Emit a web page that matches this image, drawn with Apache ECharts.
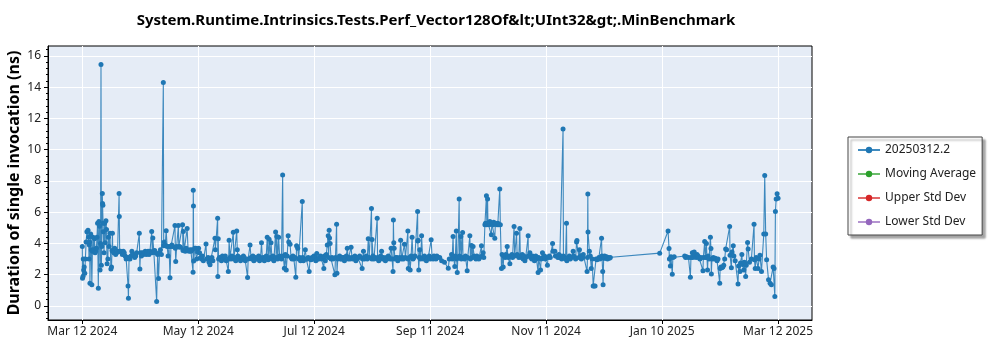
<!DOCTYPE html>
<html>
<head>
<meta charset="utf-8">
<script src="https://cdn.jsdelivr.net/npm/echarts@6/dist/echarts.min.js"></script>
<style>
  html, body { margin: 0; padding: 0; background: #ffffff; }
  #chart { width: 1000px; height: 350px; }
</style>
</head>
<body>
<div id="chart"></div>
<script>
// Benchmark runs, one array per month: [day of month (fraction = time of day), duration in ns]
const runs2024Mar = [[12,3.8],[12.1,1.78],[12.4,1.9],[12.5,3.0],[12.7,2.3],[13,2.5],[13.3,2.1],[13.6,3.0],[14,4.1],[14.4,4.75],[15,4.85],[15.3,4.4],[15.5,3.0],[15.7,3.9],[15.9,4.1],[16,1.45],[16.4,4.6],[16.7,3.6],[17,1.35],[17.3,3.5],[17.6,4.4],[18,3.6],[18.4,4.3],[18.7,3.4],[19,3.5],[19.4,3.7],[19.7,4.4],[20,5.3],[20.4,1.13],[20.7,5.4],[21,5.1],[21.3,2.3],[21.6,4.0],[21.8,15.45],[22,2.6],[22.2,3.8],[22.5,7.2],[22.6,6.55],[22.8,6.45],[22.9,5.3],[23,4.75],[23.4,3.4],[23.7,5.3],[24,4.05],[24.4,5.45],[24.7,4.9],[25,2.7],[25.4,3.0],[25.7,4.4],[26,3.8],[26.5,4.65],[27,2.37],[27.3,2.5],[27.6,3.55],[27.8,4.65],[28,3.5],[28.5,3.4],[29,3.7],[29.5,3.3],[30,3.4],[30.5,3.5],[31.3,7.2],[31.4,5.72],[31.6,3.5]];
const runs2024Apr = [[1,3.5],[1.5,3.45],[2,3.3],[2.5,3.5],[3,3.4],[3.5,3.2],[4,3.0],[4.5,3.1],[5,1.28],[5.2,0.49],[5.5,3.1],[6,3.0],[6.5,3.2],[7,3.5],[7.5,3.3],[8,3.3],[8.5,3.1],[9,3.2],[9.5,3.4],[10.9,4.65],[11.2,2.37],[11.5,3.4],[12,3.2],[12.5,3.4],[13,3.3],[13.5,3.4],[14,3.5],[14.5,3.3],[15,3.4],[15.5,3.5],[16,3.3],[16.5,3.5],[17.4,4.76],[17.7,3.4],[18,4.35],[18.5,3.5],[19,3.55],[19.5,3.4],[20,0.28],[20.5,3.3],[21,1.75],[21.5,3.4],[22,3.6],[22.5,3.3],[23.5,14.3],[23.7,3.85],[24,4.1],[24.5,3.9],[25,4.82],[25.5,3.8],[26,3.2],[26.5,3.8],[27,1.8],[27.5,3.8],[28,3.9],[28.5,3.8],[29.6,5.15],[29.8,3.7],[30,2.85],[30.5,3.8]];
const runs2024May = [[1.4,5.15],[1.6,3.78],[2,3.8],[2.5,3.75],[3.6,5.2],[3.8,3.55],[4,4.76],[4.5,3.6],[5,3.5],[5.5,3.7],[6,4.95],[6.5,3.55],[7,3.5],[7.5,3.6],[8,3.5],[8.5,3.6],[9.1,2.15],[9.2,7.4],[9.3,6.4],[9.4,2.87],[10,3.7],[10.5,3.7],[11,3.0],[11.5,3.45],[12,3.7],[12.5,3.4],[13,3.1],[13.5,3.0],[14,3.2],[14.5,2.9],[15.9,3.97],[16.2,3.0],[17,3.1],[17.5,2.8],[18,2.63],[18.5,3.0],[19,3.1],[19.5,2.9],[20.6,4.34],[20.8,3.6],[22,5.62],[22.1,1.88],[22.3,4.3],[22.5,3.0],[23,3.1],[23.5,3.0],[24,2.9],[24.5,3.2],[25,3.0],[25.5,3.1],[26,3.2],[26.5,2.9],[27.6,2.2],[27.8,3.0],[28,4.2],[28.5,3.1],[29,3.0],[29.5,3.2],[30.2,4.72],[30.5,3.0],[31,3.1],[31.5,2.9]];
const runs2024Jun = [[1,4.79],[1.3,3.6],[1.6,3.2],[2,3.1],[2.5,3.0],[3,2.9],[3.5,3.1],[4,3.0],[4.5,3.2],[5,3.1],[5.5,2.9],[6.7,1.82],[7,3.0],[8,3.9],[8.5,3.1],[9,3.0],[9.5,3.2],[10,2.9],[10.5,3.0],[11,3.1],[11.5,3.0],[12,3.0],[12.5,3.2],[13,2.9],[13.5,3.1],[14,4.05],[14.5,3.0],[15,3.1],[15.5,2.9],[16,3.0],[16.5,3.2],[17,4.4],[17.5,2.95],[18,4.27],[18.5,3.1],[19,4.05],[19.5,3.0],[20,3.2],[20.5,2.9],[21.4,4.73],[21.7,3.1],[22,4.45],[22.5,3.0],[23,4.4],[23.5,3.2],[24,3.1],[24.5,3.0],[25.1,8.38],[25.4,3.2],[26,2.41],[26.5,3.3],[27,2.3],[27.5,3.2],[28,4.5],[28.3,4.1],[29,3.95],[29.5,3.1],[30,3.0],[30.5,3.2]];
const runs2024Jul = [[1,3.0],[1.5,3.1],[2,1.83],[2.4,3.85],[3,3.7],[3.5,3.0],[4,3.1],[4.5,2.9],[5.4,6.69],[5.6,3.1],[6,2.9],[6.5,3.0],[7,3.6],[7.5,3.0],[8,3.0],[8.5,3.1],[9,2.2],[9.5,3.0],[10,2.95],[10.5,3.1],[11,3.0],[11.5,3.2],[12,3.1],[12.5,2.9],[13,3.35],[13.5,3.0],[14,3.0],[14.5,3.1],[15,3.2],[15.5,3.0],[16.7,2.4],[16.9,3.1],[17,3.2],[17.5,2.9],[18,3.3],[18.5,3.9],[19,4.5],[19.2,3.1],[19.5,4.85],[19.7,4.35],[20,4.0],[20.5,3.0],[21,3.1],[21.5,3.0],[22.5,2.0],[22.8,3.1],[23.4,5.23],[23.6,2.1],[24,3.0],[24.5,3.1],[25,3.2],[25.5,3.0],[26,3.0],[26.5,3.1],[27,3.1],[27.5,2.9],[28,3.0],[28.5,3.2],[29,3.7],[29.5,3.0],[30,3.1],[30.5,3.0],[31,3.75],[31.5,3.1]];
const runs2024Aug = [[1,3.0],[1.5,3.1],[2,3.2],[2.5,2.9],[3,3.0],[3.5,3.1],[4,3.1],[4.5,3.2],[5.8,2.4],[6,3.0],[6.5,3.5],[6.8,3.1],[7,3.0],[7.5,3.1],[8,3.2],[8.5,3.0],[9,4.3],[9.5,3.1],[10.7,6.24],[10.9,3.0],[11,4.25],[11.5,3.2],[12,3.0],[12.5,3.1],[13.7,5.62],[13.9,3.0],[14,3.1],[14.5,2.9],[15,3.0],[15.5,3.2],[16,3.5],[16.5,3.0],[17,3.1],[17.5,3.0],[18,2.9],[18.5,3.1],[19,3.0],[19.5,3.2],[20,3.1],[20.5,3.0],[21,3.7],[21.5,3.0],[22,2.2],[22.2,5.5],[22.4,4.05],[22.6,3.7],[23,3.0],[23.5,3.1],[24,3.1],[24.5,2.9],[25,3.0],[25.5,3.1],[26,4.2],[26.5,3.0],[27,3.1],[27.5,3.0],[28,3.95],[28.5,3.1],[29.8,4.8],[29.9,3.0],[30,2.4],[30.5,3.1],[31,2.3],[31.5,3.2]];
const runs2024Sep = [[1,4.4],[1.5,3.0],[2,3.1],[2.5,3.2],[3.9,6.05],[4,4.15],[4.2,4.2],[4.5,2.3],[4.8,3.1],[5,3.6],[5.5,3.0],[6,4.5],[6.5,3.1],[7,3.0],[7.5,3.2],[8,3.1],[8.5,2.9],[9,3.0],[9.5,3.1],[10,3.2],[10.5,3.0],[11,4.23],[11.5,3.1],[12,3.0],[12.5,3.2],[13,3.1],[13.5,3.0],[14,3.2],[14.5,3.1],[15.5,3.1],[16.5,2.9],[18,2.8],[20,2.41],[20.5,3.0],[21.7,3.3],[22,3.0],[22.5,4.45],[22.8,3.1],[23.4,2.52],[23.7,3.2],[24.2,4.8],[24.4,3.0],[24.7,2.14],[25,3.1],[25.7,6.84],[25.9,3.2],[26.6,4.45],[26.8,3.0],[27.5,4.7],[27.7,3.1],[28.5,3.0],[29,3.2],[29.9,2.25],[30.2,3.1]];
const runs2024Oct = [[1.3,4.5],[1.6,3.0],[2.2,3.87],[2.5,3.1],[3,3.8],[3.5,3.2],[4,3.1],[4.5,3.0],[5,3.2],[5.5,3.1],[6,3.0],[6.5,3.1],[7.4,3.85],[7.7,3.2],[8.3,3.4],[8.6,3.1],[9.2,5.2],[9.5,5.3],[10,7.05],[10.2,5.2],[10.6,6.84],[10.8,5.3],[11.5,5.2],[11.8,5.4],[12.6,4.55],[12.8,5.3],[13.5,5.2],[13.8,5.35],[14.4,4.34],[14.7,5.3],[15.2,5.25],[15.6,5.2],[16,5.3],[16.5,5.2],[17,7.48],[17.3,5.2],[17.9,2.4],[18.2,3.3],[18.8,2.5],[19.1,3.2],[19.8,3.1],[20.2,3.3],[20.9,3.8],[21.2,3.2],[21.5,3.1],[22.3,2.7],[22.6,3.2],[23.4,3.3],[23.7,3.1],[24.5,5.08],[24.8,3.2],[25.8,4.65],[26.1,3.3],[26.6,3.2],[27,3.1],[27.5,4.95],[27.8,3.2],[28.4,3.1],[28.8,3.3],[29.3,3.0],[29.6,3.2],[30.2,2.9],[30.6,3.1],[31.9,4.49],[31.95,3.2]];
const runs2024Nov = [[1.8,3.4],[2.2,3.1],[2.8,3.0],[3.2,3.2],[3.8,3.1],[4.2,2.9],[4.9,3.2],[5.3,3.0],[6.1,2.14],[6.4,3.1],[7.4,2.3],[7.7,3.0],[8.4,3.4],[8.7,3.1],[9.5,3.2],[9.8,3.0],[11,2.6],[11.3,3.1],[12,3.2],[12.5,3.1],[13.7,4.0],[13.9,3.5],[14.9,3.5],[15.2,3.2],[16,3.2],[16.5,3.1],[17,3.3],[17.5,3.1],[18,3.2],[18.5,3.0],[19.2,11.33],[19.4,3.2],[20,3.1],[20.5,3.0],[21,5.3],[21.2,2.9],[22,3.1],[22.5,3.2],[23,3.0],[23.5,3.1],[24.5,3.5],[24.8,3.2],[25.5,3.1],[25.8,3.0],[26.3,4.1],[26.5,4.19],[27.5,3.1],[27.8,3.6],[28.5,3.2],[28.8,3.0],[29.5,3.1],[29.8,3.3]];
const runs2024Dec = [[1.8,2.2],[2,3.1],[2.2,7.16],[2.3,4.74],[3,3.5],[3.5,3.2],[4,2.4],[4.5,3.0],[5,1.28],[5.5,1.28],[6,1.28],[6.5,3.0],[7,2.95],[8,3.1],[8.5,3.0],[9.4,4.34],[9.6,3.2],[10,2.2],[10.2,1.35],[10.5,3.05],[11,3.2],[11.5,3.05],[12,3.15],[12.5,3.0],[13,3.1],[13.5,3.05],[14,3.1]];
const runs2025Jan = [[8.9,3.38],[13.3,4.8],[13.8,3.67],[14,3.0],[14.5,2.56],[14.8,3.15],[15.5,2.03],[15.8,3.1],[16.5,3.15],[22,3.2],[22.5,3.1],[23,3.15],[24,3.1],[25,1.84],[25.3,3.1],[26,3.4],[26.3,3.1],[27,3.45],[27.3,3.2],[28,3.1],[28.5,3.3],[29,3.2],[29.5,3.1],[30,3.0],[30.5,3.1],[31.6,2.26],[31.8,3.1]];
const runs2025Feb = [[1.5,4.12],[1.8,3.1],[2.4,4.0],[2.7,3.1],[3,2.3],[3.3,3.2],[3.8,3.0],[4.5,4.4],[4.8,3.68],[5,2.05],[5.3,3.0],[6,3.1],[6.5,3.0],[7,3.05],[7.5,3.0],[8,2.9],[8.5,3.0],[9.4,1.45],[9.6,2.4],[10,2.5],[10.5,2.45],[11,2.5],[11.5,2.6],[12,3.0],[12.5,3.65],[13,3.6],[14.6,5.08],[14.8,3.25],[15.5,2.45],[15.8,3.45],[16.5,3.85],[16.8,3.2],[17.5,2.9],[19,1.4],[19.3,2.55],[20,2.2],[20.3,2.75],[21,3.3],[21.3,2.65],[22,2.3],[22.3,2.8],[23,1.88],[23.3,2.6],[24,4.06],[24.3,3.65],[25,2.8],[26,3.0],[27.4,5.23],[27.6,2.95],[28,2.4],[28.5,3.1]];
const runs2025Mar = [[1.5,2.4],[2,3.0],[2.5,3.25],[3.3,2.2],[4.5,4.6],[5,8.35],[5.5,4.6],[6,2.95],[7,1.67],[7.8,1.45],[8.5,1.35],[9.4,2.5],[9.9,2.4],[10.3,0.6],[10.6,6.05],[11,6.84],[11.5,7.18],[12,6.9]];

// Month each run array belongs to: [year, month (1-12), runs]
const months = [
  [2024, 3, runs2024Mar], [2024, 4, runs2024Apr], [2024, 5, runs2024May],
  [2024, 6, runs2024Jun], [2024, 7, runs2024Jul], [2024, 8, runs2024Aug],
  [2024, 9, runs2024Sep], [2024, 10, runs2024Oct], [2024, 11, runs2024Nov],
  [2024, 12, runs2024Dec], [2025, 1, runs2025Jan], [2025, 2, runs2025Feb],
  [2025, 3, runs2025Mar]
];

const seriesNames = ['20250312.2', 'Moving Average', 'Upper Std Dev', 'Lower Std Dev'];
const seriesColors = ['#1f77b4', '#2ca02c', '#d62728', '#9467bd'];
const xTickLabels = ['Mar 12 2024', 'May 12 2024', 'Jul 12 2024', 'Sep 11 2024', 'Nov 11 2024', 'Jan 10 2025', 'Mar 12 2025'];
const yMajorTicks = [0, 2, 4, 6, 8, 10, 12, 14, 16];
const yMinorTicks = [-0.8, -0.4, 0.4, 0.8, 1.2, 1.6, 2.4, 2.8, 3.2, 3.6, 4.4, 4.8, 5.2, 5.6, 6.4, 6.8, 7.2, 7.6,
  8.4, 8.8, 9.2, 9.6, 10.4, 10.8, 11.2, 11.6, 12.4, 12.8, 13.2, 13.6, 14.4, 14.8, 15.2, 15.6, 16.4];

const DAY = 86400000;
const xStart = Date.UTC(2024, 2, 12);
const xStep = 365 / 6 * DAY;
const xTicks = xTickLabels.map((_, i) => xStart + i * xStep);

const points = [];
months.forEach(([y, m, runs]) => {
  runs.forEach(([day, v]) => {
    points.push([Date.UTC(y, m - 1, 1) + (day - 1) * DAY, v]);
  });
});

const FONT = 'Noto Sans';
const chart = echarts.init(document.getElementById('chart'), null, { renderer: 'canvas' });

const yCommon = {
  type: 'value',
  position: 'left',
  min: -0.9,
  max: 16.64,
  axisLine: { show: true, lineStyle: { color: '#000', width: 1 } }
};

chart.setOption({
  animation: false,
  backgroundColor: '#ffffff',
  title: {
    text: 'System.Runtime.Intrinsics.Tests.Perf_Vector128Of&lt;UInt32&gt;.MinBenchmark',
    left: 431,
    top: 8,
    textAlign: 'center',
    textStyle: { fontFamily: FONT, fontSize: 15, fontWeight: 'bold', color: '#000' }
  },
  grid: {
    left: 48, right: 188, top: 46, bottom: 30,
    containLabel: false,
    outerBoundsMode: 'none',
    show: true,
    backgroundColor: '#e5ecf6',
    borderColor: '#000',
    borderWidth: 1
  },
  legend: {
    orient: 'vertical',
    left: 848,
    top: 137,
    padding: [7, 6, 7, 9],
    itemGap: 12,
    itemWidth: 22,
    itemHeight: 8,
    backgroundColor: '#ffffff',
    borderColor: '#444',
    borderWidth: 1,
    shadowColor: 'rgba(0,0,0,0.35)',
    shadowBlur: 2,
    shadowOffsetX: 3,
    shadowOffsetY: 3,
    textStyle: { fontFamily: FONT, fontSize: 12, color: '#222' },
    data: seriesNames
  },
  xAxis: {
    type: 'value',
    min: xStart - 18 * DAY,
    max: xStart + 382.8 * DAY,
    axisLine: { show: true, onZero: false, lineStyle: { color: '#000', width: 1 } },
    axisTick: { show: true, customValues: xTicks, length: 4, lineStyle: { color: '#000' } },
    axisLabel: {
      customValues: xTicks,
      margin: 6,
      fontFamily: FONT, fontSize: 12, color: '#222',
      formatter: (v) => xTickLabels[Math.round((v - xStart) / xStep)] || ''
    },
    splitLine: { show: true, lineStyle: { color: '#ffffff', width: 1 } }
  },
  yAxis: [
    Object.assign({}, yCommon, {
      name: 'Duration of single invocation (ns)',
      nameLocation: 'middle',
      nameGap: 26,
      nameMoveOverlap: false,
      nameTextStyle: { fontFamily: FONT, fontSize: 16, fontWeight: 'bold', color: '#000' },
      axisTick: { show: true, customValues: yMajorTicks, length: 4, lineStyle: { color: '#000' } },
      axisLabel: { customValues: yMajorTicks, margin: 7, fontFamily: FONT, fontSize: 12, color: '#222' },
      splitLine: { show: true, lineStyle: { color: '#ffffff', width: 1 } }
    }),
    Object.assign({}, yCommon, {
      axisLine: { show: false },
      axisTick: { show: true, customValues: yMinorTicks, length: 2, lineStyle: { color: '#000' } },
      axisLabel: { show: false },
      splitLine: { show: false }
    })
  ],
  series: [
    {
      name: seriesNames[0],
      type: 'line',
      data: points,
      symbol: 'circle',
      symbolSize: 5,
      showSymbol: true,
      color: seriesColors[0],
      itemStyle: { color: seriesColors[0] },
      lineStyle: { color: seriesColors[0], width: 1.1, opacity: 0.85 },
      emphasis: { disabled: true },
      z: 3
    },
    ...seriesNames.slice(1).map((name, i) => ({
      name,
      type: 'line',
      data: [],
      symbol: 'circle',
      symbolSize: 5,
      color: seriesColors[i + 1],
      itemStyle: { color: seriesColors[i + 1] },
      lineStyle: { color: seriesColors[i + 1], width: 1.1, opacity: 0.7 }
    }))
  ]
});
</script>
</body>
</html>
